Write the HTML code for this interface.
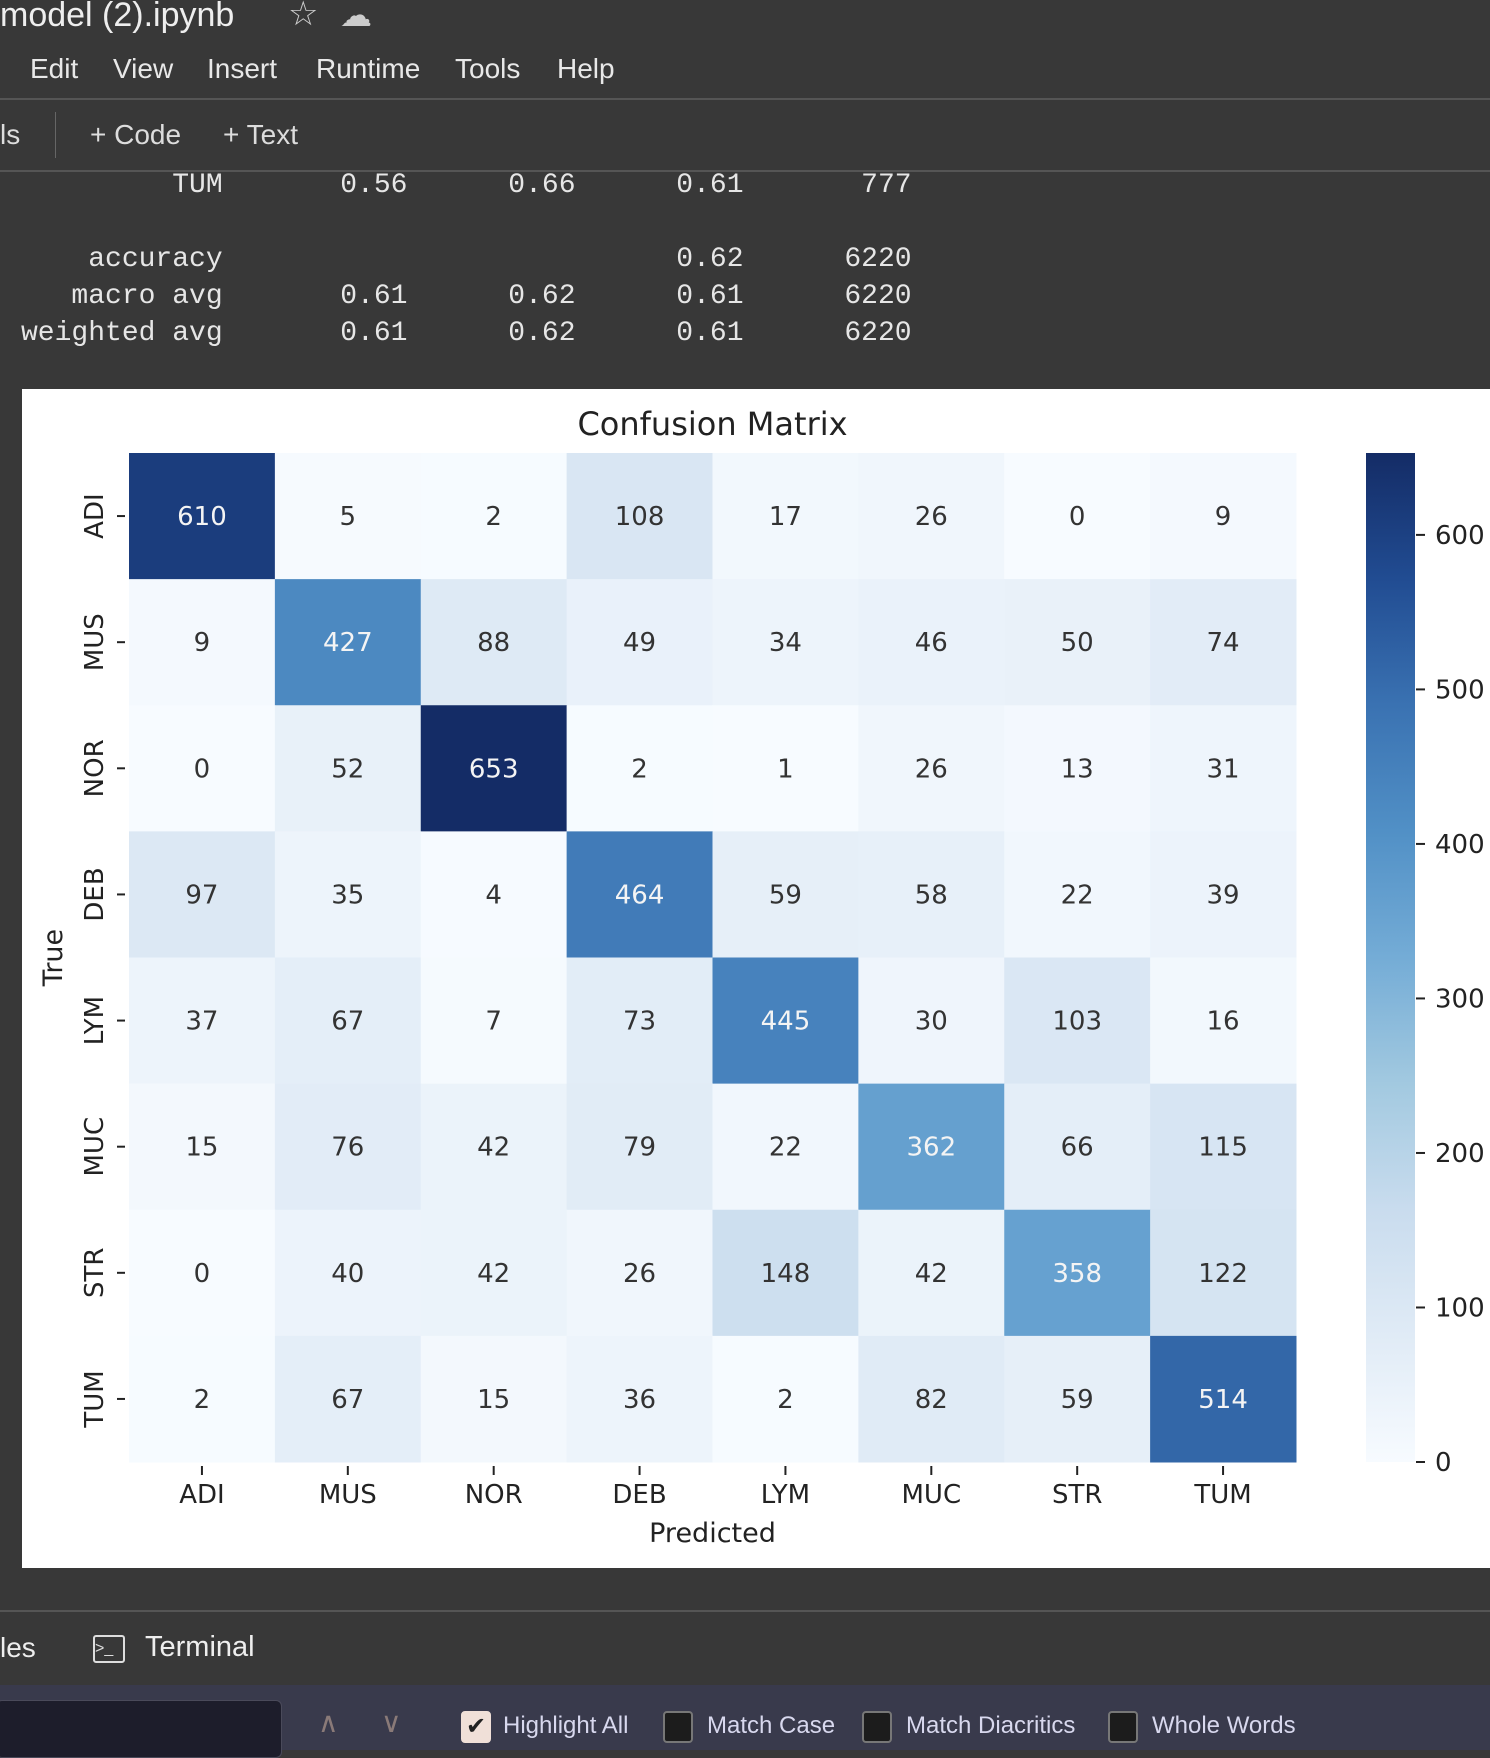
<!DOCTYPE html>
<html><head><meta charset="utf-8">
<style>
body{margin:0;width:1490px;height:1750px;background:#383838;overflow:hidden;position:relative;font-family:"Liberation Sans","DejaVu Sans",sans-serif;color:#e8e8e8}
.a{position:absolute;white-space:pre}
.menu{font-size:28px;top:53px}
pre{margin:0;position:absolute;left:21px;font-family:"Liberation Mono",monospace;font-size:28px;line-height:37px;color:#e6e6e6}
.cb{position:absolute;width:26px;height:28px;border:2px solid #777;border-radius:4px;background:#1c1c1c;top:1711px}
.fl{font-size:24px;top:1712px;color:#d8d8ee}
</style></head><body>
<div class="a" style="left:0;top:-4px;font-size:34px;color:#eee">model (2).ipynb</div>
<div class="a" style="left:288px;top:-6px;font-size:34px;color:#ccc">☆</div>
<div class="a" style="left:340px;top:-4px;font-size:32px;color:#ccc">☁</div>
<div class="a menu" style="left:30px">Edit</div>
<div class="a menu" style="left:113px">View</div>
<div class="a menu" style="left:207px">Insert</div>
<div class="a menu" style="left:316px">Runtime</div>
<div class="a menu" style="left:455px">Tools</div>
<div class="a menu" style="left:557px">Help</div>
<div class="a" style="left:0;top:98px;width:1490px;height:2px;background:#555"></div>
<div class="a" style="left:0;top:170px;width:1490px;height:2px;background:#555"></div>
<div class="a" style="left:55px;top:112px;width:1px;height:46px;background:#666"></div>
<div class="a" style="left:0;top:119px;font-size:28px;color:#ddd">ls</div>
<div class="a" style="left:90px;top:119px;font-size:28px;color:#ddd">+ Code</div>
<div class="a" style="left:223px;top:119px;font-size:28px;color:#ddd">+ Text</div>
<pre style="top:167px">         TUM       0.56      0.66      0.61       777

    accuracy                           0.62      6220
   macro avg       0.61      0.62      0.61      6220
weighted avg       0.61      0.62      0.61      6220</pre>
<div class="a" style="left:22px;top:389px;width:1468px;height:1179px;background:#fff"></div>
<svg id="chart" style="position:absolute;left:0;top:0" width="1490" height="1750" font-family="DejaVu Sans, sans-serif"></svg>
<div class="a" style="left:0;top:1610px;width:1490px;height:2px;background:#555"></div>
<div class="a" style="left:0;top:1632px;font-size:28px;color:#eee">les</div>
<div class="a" style="left:93px;top:1635px;width:28px;height:24px;border:2px solid #ddd;border-radius:3px;font-size:16px;line-height:24px;color:#ddd">&gt;_</div>
<div class="a" style="left:145px;top:1631px;font-size:29px;color:#eee">Terminal</div>
<div class="a" style="left:0;top:1685px;width:1490px;height:65px;background:#393a4c"></div>
<div class="a" style="left:-4px;top:1700px;width:284px;height:56px;background:#1d1d2b;border:1px solid #4a4a5a;border-radius:6px"></div>
<div class="a" style="left:318px;top:1706px;font-size:28px;color:#8a7a78">∧</div>
<div class="a" style="left:381px;top:1706px;font-size:28px;color:#8a7a78">∨</div>
<div class="cb" style="left:461px;background:#f0e0d8;border-color:#f0e0d8;color:#222;font-size:24px;text-align:center;line-height:28px">✔</div>
<div class="a fl" style="left:503px">Highlight All</div>
<div class="cb" style="left:663px"></div>
<div class="a fl" style="left:707px">Match Case</div>
<div class="cb" style="left:862px"></div>
<div class="a fl" style="left:906px">Match Diacritics</div>
<div class="cb" style="left:1108px"></div>
<div class="a fl" style="left:1152px">Whole Words</div>
<script>
const labels=["ADI","MUS","NOR","DEB","LYM","MUC","STR","TUM"];
const matrix=[
[610,5,2,108,17,26,0,9],
[9,427,88,49,34,46,50,74],
[0,52,653,2,1,26,13,31],
[97,35,4,464,59,58,22,39],
[37,67,7,73,445,30,103,16],
[15,76,42,79,22,362,66,115],
[0,40,42,26,148,42,358,122],
[2,67,15,36,2,82,59,514]];
const cbTicks=[0,100,200,300,400,500,600];
const vmax=653;
const X0=129,X1=1296,Y0=453,Y1=1462,CX0=1366,CX1=1415;
const cw=(X1-X0)/labels.length,ch=(Y1-Y0)/labels.length;
const xs=i=>X0+i*cw, ys=i=>Y0+i*ch, cy=v=>Y1-(v/vmax)*(Y1-Y0);
const stops=["#f7fbff","#e0ebf6","#c9dcee","#a2c9e0","#74acd6","#5190c6","#3a72b2","#214c92","#142c66"].map(h=>[1,3,5].map(k=>parseInt(h.substr(k,2),16)));
function blues(t){t=Math.max(0,Math.min(1,t));const p=t*8,i=Math.min(7,Math.floor(p)),f=p-i;return stops[i].map((c,k)=>Math.round(c+(stops[i+1][k]-c)*f));}
const svg=document.getElementById('chart');const NS="http://www.w3.org/2000/svg";
function mk(tag,at,txt){const e=document.createElementNS(NS,tag);for(const k in at)e.setAttribute(k,at[k]);if(txt!==undefined)e.textContent=txt;svg.appendChild(e);return e;}
let t=mk('text',{x:(X0+X1)/2,y:435,'text-anchor':'middle','font-size':32,fill:'#222'},'Confusion Matrix');


matrix.forEach((row,r)=>row.forEach((v,c)=>{
 const col=blues(v/vmax);
 const rc=mk('rect',{x:xs(c),y:ys(r),width:cw+0.5,height:ch+0.5,fill:`rgb(${col})`});
 
 
 const tx=mk('text',{x:xs(c)+cw/2,y:ys(r)+ch/2+9,'text-anchor':'middle','font-size':26,fill:(v/vmax)>0.5?'#f4f4f4':'#333333'},v);
 
 
}));
labels.forEach((l,i)=>{
 mk('line',{x1:xs(i)+cw/2,x2:xs(i)+cw/2,y1:Y1+4,y2:Y1+13,stroke:'#222','stroke-width':2});
 const xl=mk('text',{x:xs(i)+cw/2,y:1503,'text-anchor':'middle','font-size':26,fill:'#222'},l);
 
 
 const yc=ys(i)+ch/2;
 mk('line',{x1:X0-12,x2:X0-4,y1:yc,y2:yc,stroke:'#222','stroke-width':2});
 const yl=mk('text',{x:103,y:yc,'text-anchor':'middle','font-size':26,fill:'#222',transform:`rotate(-90 103 ${yc})`},l);
 
 
});
t=mk('text',{x:(X0+X1)/2,y:1542,'text-anchor':'middle','font-size':27,fill:'#222'},'Predicted');


t=mk('text',{x:62,y:(Y0+Y1)/2,'text-anchor':'middle','font-size':27,fill:'#222',transform:`rotate(-90 62 ${(Y0+Y1)/2})`},'True');


const defs=mk('defs',{});const g=document.createElementNS(NS,'linearGradient');g.setAttribute('id','cbg');g.setAttribute('x1','0');g.setAttribute('y1','1');g.setAttribute('x2','0');g.setAttribute('y2','0');defs.appendChild(g);
for(let k=0;k<=8;k++){const s=document.createElementNS(NS,'stop');s.setAttribute('offset',k/8);s.setAttribute('stop-color',`rgb(${stops[k]})`);g.appendChild(s);}
t=mk('rect',{x:CX0,y:Y0,width:CX1-CX0,height:Y1-Y0,fill:'url(#cbg)'});


cbTicks.forEach(v=>{
 mk('line',{x1:CX1+1,x2:CX1+10,y1:cy(v),y2:cy(v),stroke:'#222','stroke-width':2});
 const tl=mk('text',{x:CX1+20,y:cy(v)+9,'font-size':26,fill:'#222'},v);
 
 
});
</script>
</body></html>
